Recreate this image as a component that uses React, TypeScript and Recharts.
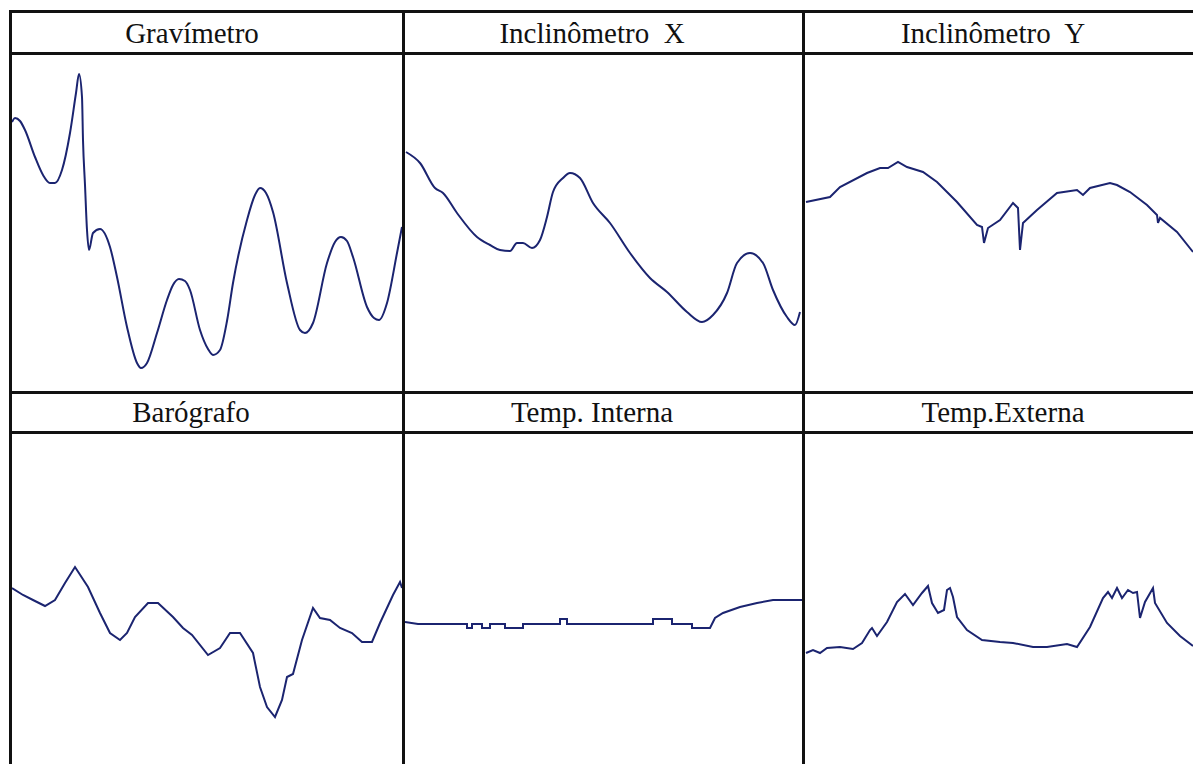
import { LineChart, Line, XAxis, YAxis } from "recharts"

// readings per panel: [time, value] (time and value in panel units)
const gravimetro: [number, number][] = [
  [0, 269], [3, 273], [8, 270], [13, 261], [23, 234], [31, 216], [38, 208], [43, 208], [50, 221],
  [58, 258], [64, 298], [67, 317], [70, 294], [71, 251], [73, 206], [75, 161], [77, 141],
  [81, 158], [88, 162], [98, 144], [105, 114], [115, 64], [125, 28], [129, 23], [135, 28],
  [145, 58], [155, 91], [161, 106], [167, 112], [173, 110], [178, 101], [188, 61], [196, 42],
  [201, 36], [208, 41], [215, 70], [221, 108], [235, 171], [243, 196], [248, 203], [254, 198],
  [261, 179], [275, 108], [288, 61], [293, 58], [301, 68], [315, 128], [323, 149], [329, 154],
  [335, 150], [341, 134], [355, 84], [362, 73], [367, 71], [375, 88], [385, 138], [390, 164],
]

const inclinometroX: [number, number][] = [
  [1, 239], [15, 228], [30, 203], [38, 198], [52, 178], [72, 154], [85, 146], [95, 141],
  [105, 140], [112, 148], [118, 148], [127, 143], [135, 151], [142, 174], [148, 199],
  [158, 213], [165, 218], [175, 213], [188, 188], [205, 168], [225, 138], [245, 113],
  [262, 99], [282, 79], [297, 69], [308, 76], [322, 98], [332, 128], [345, 138], [358, 128],
  [368, 101], [382, 74], [390, 66], [395, 79],
]

const inclinometroY: [number, number][] = [
  [1, 189], [25, 194], [35, 204], [62, 218], [75, 223], [83, 223], [93, 229], [102, 224],
  [118, 219], [132, 209], [152, 189], [172, 166], [177, 164], [179, 148], [183, 163],
  [195, 171], [208, 188], [213, 183], [215, 141], [218, 168], [232, 181], [252, 198],
  [272, 201], [278, 196], [285, 203], [305, 208], [312, 206], [325, 199], [342, 186],
  [352, 176], [353, 168], [355, 173], [372, 159], [388, 139],
]

const barografo: [number, number][] = [
  [0, 176], [11, 169], [21, 164], [33, 158], [43, 164], [53, 181], [63, 197], [76, 177],
  [88, 151], [98, 131], [108, 124], [115, 131], [123, 147], [136, 161], [146, 161],
  [161, 147], [171, 136], [180, 129], [196, 109], [208, 116], [218, 131], [228, 131],
  [241, 111], [248, 77], [255, 57], [263, 47], [270, 64], [275, 87], [281, 90], [290, 124],
  [301, 156], [308, 146], [318, 144], [328, 136], [340, 131], [350, 122], [360, 122],
  [368, 141], [381, 169], [388, 182], [390, 176],
]

const tempInterna: [number, number][] = [
  [0, 142], [13, 140], [62, 140], [62, 136], [67, 136], [67, 140], [77, 140], [77, 136],
  [85, 136], [85, 140], [100, 140], [100, 136], [118, 136], [118, 140], [155, 140],
  [155, 145], [162, 145], [162, 140], [248, 140], [248, 145], [267, 145], [267, 140],
  [287, 140], [287, 136], [305, 136], [310, 146], [318, 151], [335, 157], [352, 161],
  [368, 164], [397, 164],
]

const tempExterna: [number, number][] = [
  [1, 111], [8, 114], [15, 111], [22, 116], [35, 117], [48, 115], [57, 121], [65, 134],
  [67, 136], [72, 128], [82, 142], [92, 162], [100, 170], [108, 159], [117, 171], [123, 178],
  [127, 161], [133, 151], [139, 154], [142, 174], [145, 176], [148, 167], [152, 147],
  [162, 134], [177, 124], [195, 122], [208, 121], [228, 117], [242, 117], [262, 120],
  [272, 117], [285, 137], [298, 166], [303, 172], [307, 166], [312, 176], [317, 166],
  [323, 174], [328, 171], [332, 172], [335, 146], [340, 162], [348, 176], [350, 161],
  [362, 141], [375, 128], [388, 118],
]

const titles = ["Gravímetro", "Inclinômetro  X", "Inclinômetro  Y", "Barógrafo", "Temp. Interna", "Temp.Externa"]

const LINE = "#1b2470"
const INK = "#111"

interface PanelProps {
  points: [number, number][]
  left: number
  top: number
  width: number
  height: number
  smooth?: boolean
}

function Panel({ points, left, top, width, height, smooth }: PanelProps) {
  const data = points.map(([t, v]) => ({ t, v }))
  return (
    <div style={{ position: "absolute", left, top }}>
      <LineChart width={width} height={height} data={data} margin={{ top: 0, right: 0, bottom: 0, left: 0 }}>
        <XAxis dataKey="t" type="number" domain={[0, width]} hide allowDataOverflow />
        <YAxis type="number" domain={[0, height]} hide allowDataOverflow />
        <Line
          dataKey="v"
          type={smooth ? "monotone" : "linear"}
          stroke={LINE}
          strokeWidth={2}
          dot={false}
          isAnimationActive={false}
        />
      </LineChart>
    </div>
  )
}

export default function App() {
  // plot areas: columns x, rows y
  const cols = [
    { left: 12, width: 390 },
    { left: 405, width: 397 },
    { left: 805, width: 388 },
  ]
  const rows = [
    { top: 55, height: 336 },
    { top: 434, height: 330 },
  ]
  const series = [gravimetro, inclinometroX, inclinometroY, barografo, tempInterna, tempExterna]
  const titleX = [192, 592, 993, 191, 592, 1003]
  const titleY = [43, 43, 43, 422, 422, 422]

  return (
    <div style={{ position: "absolute", left: 0, top: 0, width: 1193, height: 764, background: "#fff", overflow: "hidden" }}>
      {series.map((pts, i) => {
        const c = cols[i % 3]
        const r = rows[Math.floor(i / 3)]
        return (
          <Panel
            key={i}
            points={pts}
            left={c.left}
            top={r.top}
            width={c.width}
            height={r.height}
            smooth={i < 2}
          />
        )
      })}
      <svg width={1193} height={764} style={{ position: "absolute", left: 0, top: 0, pointerEvents: "none" }}>
        {/* frame */}
        <rect x={9} y={10} width={1300} height={3} fill={INK} />
        <rect x={9} y={52} width={1300} height={3} fill={INK} />
        <rect x={9} y={391} width={1300} height={3} fill={INK} />
        <rect x={9} y={431} width={1300} height={3} fill={INK} />
        <rect x={9} y={10} width={3} height={800} fill={INK} />
        <rect x={402} y={10} width={3} height={800} fill={INK} />
        <rect x={802} y={10} width={3} height={800} fill={INK} />
        {titles.map((t, i) => (
          <text
            key={t}
            x={titleX[i]}
            y={titleY[i]}
            textAnchor="middle"
            fontFamily="'Liberation Serif', 'DejaVu Serif', serif"
            fontSize={29}
            fill="#111"
            style={{ whiteSpace: "pre" }}
          >
            {t}
          </text>
        ))}
      </svg>
    </div>
  )
}
